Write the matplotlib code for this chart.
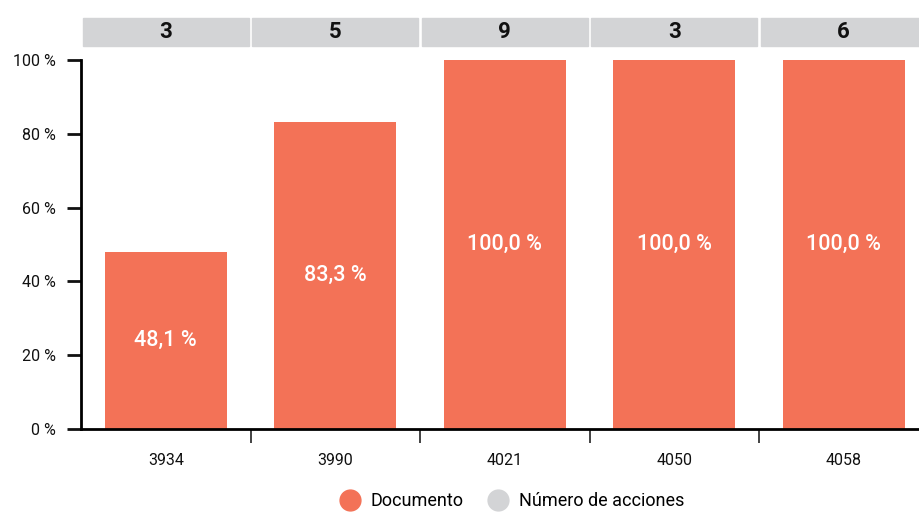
import numpy as np
import matplotlib.pyplot as plt
from matplotlib.lines import Line2D

# datos
categorias = ['3934', '3990', '4021', '4050', '4058']
documento = [48.1, 83.3, 100.0, 100.0, 100.0]
num_acciones = [3, 5, 9, 3, 6]
yticks = [0, 20, 40, 60, 80, 100]

naranja = '#f37257'
gris = '#d3d4d6'

plt.rcParams['font.family'] = ['Roboto', 'DejaVu Sans']

fig = plt.figure(figsize=(9.19, 5.15), dpi=100)
ax = fig.add_axes([81 / 919, 1 - 429 / 515, 838 / 919, 369 / 515])

x = np.arange(len(categorias))
ax.bar(x, documento, width=0.72, color=naranja, zorder=2)

# etiquetas dentro de las barras
for xi, v in zip(x, documento):
    ax.text(xi, v / 2 if v < 90 else 50, f"{v:.1f} %".replace('.', ','),
            ha='center', va='center', color='white', fontsize=15.5,
            fontweight='medium')

# cajas grises con el numero de acciones
trans = ax.get_xaxis_transform()
for xi, n in zip(x, num_acciones):
    ax.add_patch(plt.Rectangle((xi - 0.49, 1.038), 0.98, 0.076,
                               transform=trans, color=gris, clip_on=False))
    ax.text(xi, 1.076, str(n), transform=trans, ha='center', va='center',
            fontsize=16, fontweight='bold', color='#111111')

ax.set_xlim(-0.5, -0.5 + 838 / 169.5)
ax.set_ylim(0, 100)
ax.set_yticks(yticks)
ax.set_yticklabels([f"{t} %" for t in yticks], fontsize=11.5, color='#111111')

# ticks del eje x entre categorias
ax.set_xticks(np.arange(len(categorias) - 1) + 0.5)
ax.set_xticklabels([])
ax.set_xticks(x, minor=True)
ax.set_xticklabels(categorias, minor=True, fontsize=11.5, color='#111111')
ax.tick_params(axis='x', which='major', length=10, width=1.2, color='#222222')
ax.tick_params(axis='x', which='minor', length=0, pad=17)
ax.tick_params(axis='y', length=10, width=2, color='#111111', pad=8)

for s in ['top', 'right']:
    ax.spines[s].set_visible(False)
ax.spines['left'].set_linewidth(2)
ax.spines['bottom'].set_linewidth(2)

handles = [
    Line2D([], [], marker='o', linestyle='', color=naranja, markersize=15),
    Line2D([], [], marker='o', linestyle='', color=gris, markersize=15),
]
fig.legend(handles, ['Documento', 'Número de acciones'], loc='center',
           bbox_to_anchor=(0.553, 1 - 501 / 515), ncol=2, frameon=False,
           fontsize=13, handletextpad=0.15, columnspacing=0.9)

fig.savefig('out.png', dpi=100)
